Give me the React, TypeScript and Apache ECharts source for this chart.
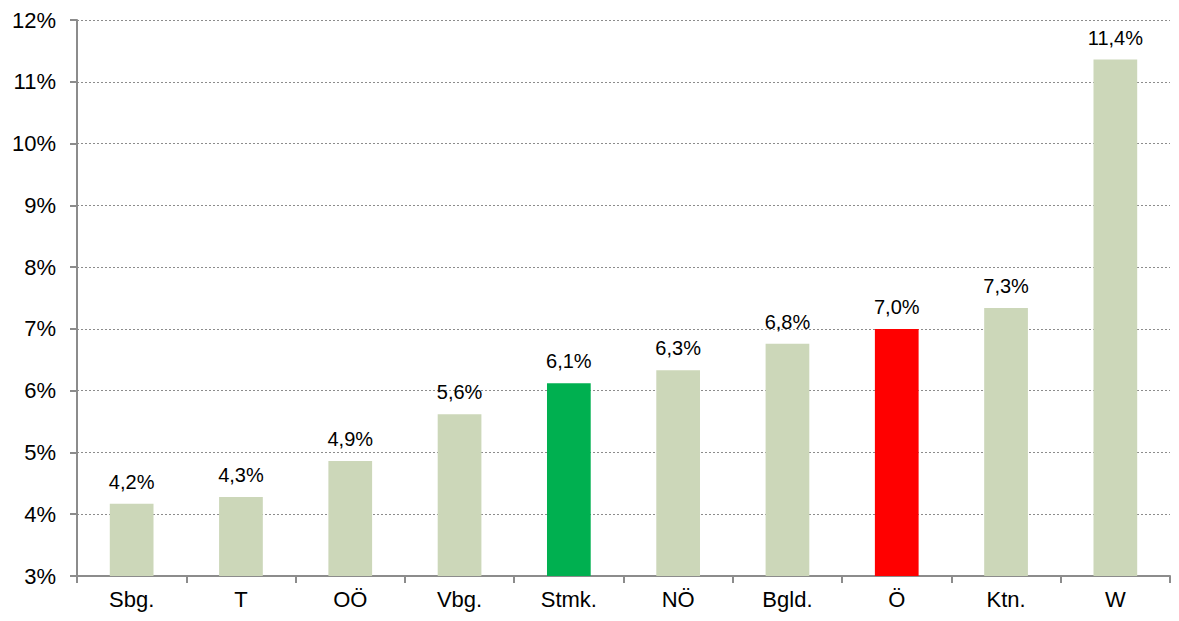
import React, { useEffect, useRef } from "react";
import * as echarts from "echarts";

const categories = ["Sbg.", "T", "OÖ", "Vbg.", "Stmk.", "NÖ", "Bgld.", "Ö", "Ktn.", "W"];
const values = [4.17, 4.28, 4.86, 5.62, 6.12, 6.33, 6.76, 7.0, 7.34, 11.36];
const labels = ["4,2%", "4,3%", "4,9%", "5,6%", "6,1%", "6,3%", "6,8%", "7,0%", "7,3%", "11,4%"];
const barColors = ["#CCD7B9", "#CCD7B9", "#CCD7B9", "#CCD7B9", "#00B050", "#CCD7B9", "#CCD7B9", "#FF0000", "#CCD7B9", "#CCD7B9"];

export default function App() {
  const ref = useRef<HTMLDivElement>(null);
  useEffect(() => {
    if (!ref.current) return;
    const chart = echarts.init(ref.current, null, { renderer: "svg" });
    const font = "'Liberation Sans', Arial, sans-serif";
    chart.setOption({
      animation: false,
      backgroundColor: "#ffffff",
      grid: { left: 77, right: 9, top: 20, bottom: 45 },
      xAxis: {
        type: "category",
        data: categories,
        axisLine: { lineStyle: { color: "#8c8c8c", width: 2 } },
        axisTick: { show: true, alignWithLabel: false, length: 7, lineStyle: { color: "#8c8c8c", width: 2 } },
        axisLabel: { color: "#000", fontSize: 22, fontFamily: font, margin: 12 },
      },
      yAxis: {
        type: "value",
        min: 3,
        max: 12,
        interval: 1,
        axisLine: { show: true, lineStyle: { color: "#8c8c8c", width: 2 } },
        axisTick: { show: true, length: 7, lineStyle: { color: "#8c8c8c", width: 2 } },
        axisLabel: { color: "#000", fontSize: 22, fontFamily: font, margin: 21, formatter: (v: number) => v + "%" },
        splitLine: { show: true, lineStyle: { color: "#8c8c8c", type: [2, 2], width: 1 } },
      },
      series: [
        {
          type: "bar",
          barWidth: "40%",
          data: values.map((v, i) => ({ value: v, itemStyle: { color: barColors[i] } })),
          label: {
            show: true,
            position: "top",
            distance: 12,
            color: "#000",
            fontSize: 20,
            fontFamily: font,
            formatter: (p: any) => labels[p.dataIndex],
          },
        },
      ],
    });
    return () => chart.dispose();
  }, []);
  return <div ref={ref} style={{ position: "absolute", left: 0, top: 0, width: 1179, height: 621 }} />;
}
